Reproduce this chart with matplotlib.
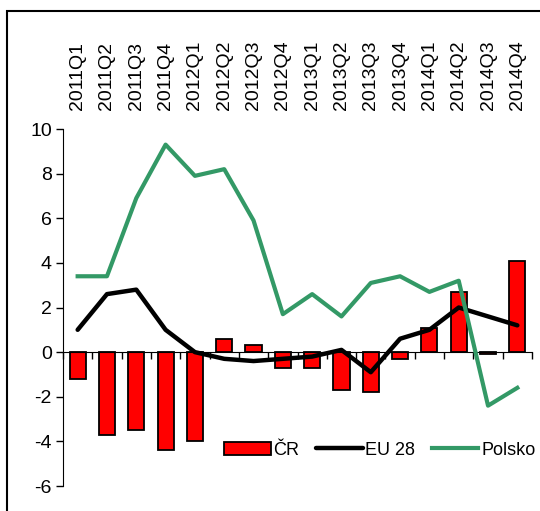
import numpy as np
import matplotlib.pyplot as plt
from matplotlib.patches import Rectangle

plt.rcParams['font.family'] = ['Liberation Sans', 'DejaVu Sans']
plt.rcParams['axes.unicode_minus'] = False

quarters = ['2011Q1', '2011Q2', '2011Q3', '2011Q4',
            '2012Q1', '2012Q2', '2012Q3', '2012Q4',
            '2013Q1', '2013Q2', '2013Q3', '2013Q4',
            '2014Q1', '2014Q2', '2014Q3', '2014Q4']
cr = [-1.2, -3.7, -3.5, -4.4, -4.0, 0.6, 0.3, -0.7,
      -0.7, -1.7, -1.8, -0.3, 1.1, 2.7, -0.1, 4.1]
eu28 = [1.0, 2.6, 2.8, 1.0, 0.0, -0.3, -0.4, -0.3,
        -0.2, 0.1, -0.9, 0.6, 1.0, 2.0, 1.6, 1.2]
polsko = [3.4, 3.4, 6.9, 9.3, 7.9, 8.2, 5.9, 1.7,
          2.6, 1.6, 3.1, 3.4, 2.7, 3.2, -2.4, -1.6]

x = np.arange(len(quarters))

fig = plt.figure(figsize=(5.4, 5.11), dpi=100)
ax = fig.add_axes([63/540, 25/511, 469/540, 357/511])

bars = ax.bar(x, cr, width=0.55, color='#ff0000', edgecolor='black', linewidth=1.3,
              label='ČR', zorder=2)
l1, = ax.plot(x, eu28, color='black', linewidth=3.2, label='EU 28', zorder=3,
              solid_capstyle='round')
l2, = ax.plot(x, polsko, color='#339966', linewidth=3.0, label='Polsko', zorder=4)

ax.set_xlim(-0.5, len(quarters) - 0.5)
ax.set_ylim(-6, 10)
ax.set_yticks(range(-6, 11, 2))
ax.tick_params(axis='y', labelsize=14, length=5, width=1, pad=3)

ax.spines['top'].set_visible(False)
ax.spines['right'].set_visible(False)
ax.spines['bottom'].set_position(('data', 0))
ax.set_xticks(np.arange(len(quarters) + 1) - 0.5)
ax.set_xticklabels([])
ax.tick_params(axis='x', length=5, width=1, direction='out')

for i, q in enumerate(quarters):
    ax.text(i, 1.053, q, rotation=90, ha='center', va='bottom', fontsize=14,
            transform=ax.get_xaxis_transform())

ax.legend([bars, l1, l2], ['ČR', 'EU 28', 'Polsko'], loc='center',
          bbox_to_anchor=(0.675, 0.10), ncol=3, frameon=False,
          fontsize=13, handlelength=2.6, handletextpad=0.15, columnspacing=0.9)

frame = Rectangle((7/540, -0.1), 1.2, 1 - 11/511 + 0.1, transform=fig.transFigure,
                  fill=False, edgecolor='black', linewidth=1.5)
fig.add_artist(frame)

fig.savefig('out.png', dpi=100)
